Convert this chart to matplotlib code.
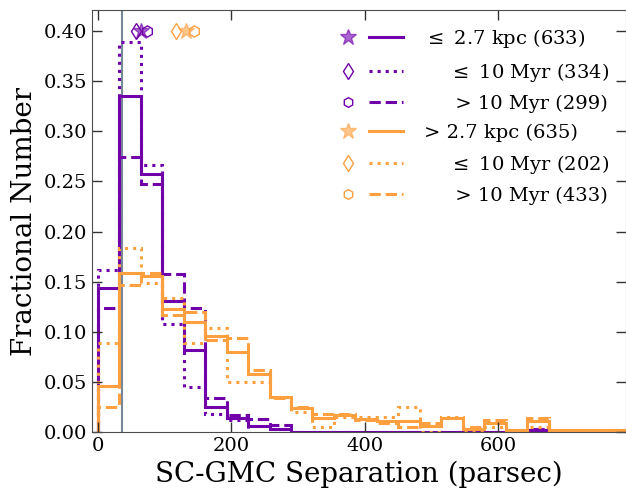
import numpy as np
import matplotlib
matplotlib.use("Agg")
import matplotlib.pyplot as plt
from matplotlib.lines import Line2D
from matplotlib.legend_handler import HandlerTuple

plt.rcParams['font.family'] = 'DejaVu Serif'
plt.rcParams['mathtext.fontset'] = 'dejavuserif'

# bin counts per 32.2 pc bin
inner_young = [54, 130, 89, 36, 15, 6, 4]                                       # <= 2.7 kpc, <= 10 Myr
inner_old = [37, 82, 74, 47, 37, 10, 5, 4, 2, 0, 0, 0, 0, 0, 0, 0, 0, 0, 0, 0, 1]  # <= 2.7 kpc, > 10 Myr
outer_young = [18, 37, 30, 27, 18, 21, 10, 10, 7, 4, 1, 3, 3, 3, 5, 0, 3, 0, 1, 0, 1]
outer_old = [11, 64, 69, 51, 52, 40, 41, 27, 15, 11, 8, 8, 5, 4, 2, 4, 6, 2, 5, 1, 6, 1, 1, 1, 1]

# medians (pc) shown as markers at the top
inner_medians = {'all': 65.5, 'young': 58, 'old': 74}
outer_medians = {'all': 133, 'young': 117, 'old': 144.5}

resolution_pc = 36.4
bin_width = 32.2

purple = '#7000aa'
orange = '#ffa040'


def combine(a, b):
    n = max(len(a), len(b))
    a = np.pad(np.array(a, float), (0, n - len(a)))
    b = np.pad(np.array(b, float), (0, n - len(b)))
    return a + b


def draw(ax, counts, color, ls):
    counts = np.array(counts, float)
    edges = bin_width * np.arange(len(counts) + 1)
    ax.stairs(counts / counts.sum(), edges, color=color, ls=ls, lw=2.2)


fig = plt.figure(figsize=(6.26, 4.9), dpi=100)
ax = fig.add_axes([0.147, 0.1184, 0.853, 0.861])

ax.axvline(resolution_pc, color='lightslategray', lw=1.5, zorder=0)

groups = [
    (inner_young, inner_old, inner_medians, purple, 633, 334, 299, r'$\leq$ 2.7 kpc'),
    (outer_young, outer_old, outer_medians, orange, 635, 202, 433, '> 2.7 kpc'),
]

handles = []
labels = []
for young, old, med, color, n_all, n_young, n_old, name in groups:
    draw(ax, combine(young, old), color, '-')
    draw(ax, young, color, ':')
    draw(ax, old, color, '--')

    ax.plot(med['young'], 0.40, marker='d', ms=8, mfc='none', mec=color, ls='none')
    ax.plot(med['old'], 0.40, marker='h', ms=8, mfc='none', mec=color, ls='none')
    ax.plot(med['all'], 0.40, marker='*', ms=12, color=color, alpha=0.6, ls='none')

    star = Line2D([], [], marker='*', ms=12, color=color, alpha=0.6, ls='none')
    dia = Line2D([], [], marker='d', ms=8, mfc='none', mec=color, ls='none')
    hexa = Line2D([], [], marker='h', ms=7, mfc='none', mec=color, ls='none')
    handles += [(star, Line2D([], [], color=color, lw=2.2, ls='-')),
                (dia, Line2D([], [], color=color, lw=2.2, ls=':')),
                (hexa, Line2D([], [], color=color, lw=2.2, ls='--'))]
    labels += [name + ' (%d)' % n_all,
               r'    $\leq$ 10 Myr (%d)' % n_young,
               '     > 10 Myr (%d)' % n_old]

ax.legend(handles, labels, handler_map={tuple: HandlerTuple(ndivide=None, pad=0.15)},
          loc='upper right', frameon=False, fontsize=14, handlelength=3.7,
          handletextpad=1.1, labelspacing=0.56, borderaxespad=0.45)

ax.set_xlim(-8.5, 792)
ax.set_ylim(0, 0.421)
ax.set_yticks(np.arange(0, 0.41, 0.05))
ax.set_xticks([0, 200, 400, 600])
ax.tick_params(direction='in', top=True, right=True, labelsize=14, length=7, width=1,
               color='0.2')
for s in ax.spines.values():
    s.set_color('0.3')

ax.set_xlabel('SC-GMC Separation (parsec)', fontsize=20)
ax.set_ylabel('Fractional Number', fontsize=20)

fig.savefig('out.png', dpi=100)
